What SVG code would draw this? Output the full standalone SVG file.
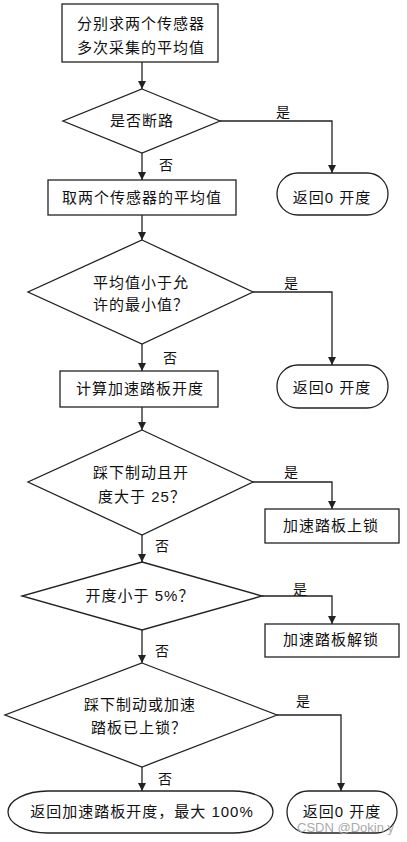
<svg xmlns="http://www.w3.org/2000/svg" width="407" height="842" viewBox="0 0 407 842">
<style>
.s{fill:#fff;stroke:#222;stroke-width:1.3}
.c{fill:none;stroke:#222;stroke-width:1.3}
.t{font-family:"Liberation Sans","Noto Sans CJK SC",sans-serif;font-size:15px;fill:#111;text-anchor:middle;letter-spacing:1px}
.l{font-family:"Noto Sans CJK SC",sans-serif;font-size:14px;fill:#111;text-anchor:middle}
.w{font-family:"Liberation Sans",sans-serif;font-size:13px;fill:#aaa}
</style>
<defs>
<marker id="a" viewBox="0 0 10 10" refX="10" refY="5" markerWidth="8" markerHeight="8" markerUnits="userSpaceOnUse" orient="auto">
<path d="M0,0 L10,5 L0,10 z" fill="#222"/>
</marker>
</defs>
<rect width="407" height="842" fill="#fff"/>
<g id="connectors">
<path class="c" d="M142,62 V89" marker-end="url(#a)"/>
<path class="c" d="M220,121 H332 V173" marker-end="url(#a)"/>
<path class="c" d="M142,153 V180" marker-end="url(#a)"/>
<path class="c" d="M142,215 V240" marker-end="url(#a)"/>
<path class="c" d="M253,292 H332 V365" marker-end="url(#a)"/>
<path class="c" d="M142,344 V371" marker-end="url(#a)"/>
<path class="c" d="M142,407 V430" marker-end="url(#a)"/>
<path class="c" d="M253,482 H332 V509" marker-end="url(#a)"/>
<path class="c" d="M142,535 V562" marker-end="url(#a)"/>
<path class="c" d="M262,596 H332 V624" marker-end="url(#a)"/>
<path class="c" d="M142,630 V663" marker-end="url(#a)"/>
<path class="c" d="M277,715 H341 V791" marker-end="url(#a)"/>
<path class="c" d="M142,767 V791" marker-end="url(#a)"/>
<text class="l" x="283" y="117">是</text>
<text class="l" x="166" y="170">否</text>
<text class="l" x="291" y="288">是</text>
<text class="l" x="170" y="363">否</text>
<text class="l" x="291" y="477">是</text>
<text class="l" x="162" y="551">否</text>
<text class="l" x="300" y="594">是</text>
<text class="l" x="162" y="656">否</text>
<text class="l" x="303" y="706">是</text>
<text class="l" x="165" y="784">否</text>
</g>
<g id="n1">
<rect class="s" x="62" y="4" width="156" height="58"/>
<text class="t" x="141" y="29">分别求两个传感器</text>
<text class="t" x="141" y="53">多次采集的平均值</text>
</g>
<g id="d1">
<polygon class="s" points="142,89 220,121 142,153 63,121"/>
<text class="t" x="142" y="126">是否断路</text>
</g>
<g id="r1">
<rect class="s" x="277" y="173" width="111" height="42" rx="21" ry="21"/>
<text class="t" x="332" y="203">返回0 开度</text>
</g>
<g id="n2">
<rect class="s" x="48" y="180" width="188" height="35"/>
<text class="t" x="142" y="203">取两个传感器的平均值</text>
</g>
<g id="d2">
<polygon class="s" points="142,240 253,292 142,344 28,292"/>
<text class="t" x="141" y="288">平均值小于允</text>
<text class="t" x="141" y="310">许的最小值？</text>
</g>
<g id="r2">
<rect class="s" x="277" y="365" width="111" height="43" rx="21" ry="21"/>
<text class="t" x="332" y="393">返回0 开度</text>
</g>
<g id="n3">
<rect class="s" x="60" y="371" width="158" height="36"/>
<text class="t" x="140" y="394">计算加速踏板开度</text>
</g>
<g id="d3">
<polygon class="s" points="142,430 253,482 142,535 28,482"/>
<text class="t" x="141" y="478">踩下制动且开</text>
<text class="t" x="142" y="502">度大于 25？</text>
</g>
<g id="n4">
<rect class="s" x="265" y="509" width="134" height="34"/>
<text class="t" x="331" y="531">加速踏板上锁</text>
</g>
<g id="d4">
<polygon class="s" points="142,562 262,596 142,630 22,596"/>
<text class="t" x="140" y="601">开度小于 5%？</text>
</g>
<g id="n5">
<rect class="s" x="265" y="624" width="134" height="33"/>
<text class="t" x="331" y="645">加速踏板解锁</text>
</g>
<g id="d5">
<polygon class="s" points="142,663 277,715 142,767 5,715"/>
<text class="t" x="140" y="710">踩下制动或加速</text>
<text class="t" x="139" y="733">踏板已上锁？</text>
</g>
<g id="r3">
<rect class="s" x="8" y="791" width="265" height="42" rx="40" ry="21"/>
<text class="t" x="142" y="817">返回加速踏板开度，最大 100%</text>
</g>
<g id="r4">
<rect class="s" x="287" y="791" width="110" height="42" rx="21" ry="21"/>
<text class="t" x="342" y="817">返回0 开度</text>
</g>
<text class="w" x="297" y="832">CSDN @Dokin y</text>
</svg>
